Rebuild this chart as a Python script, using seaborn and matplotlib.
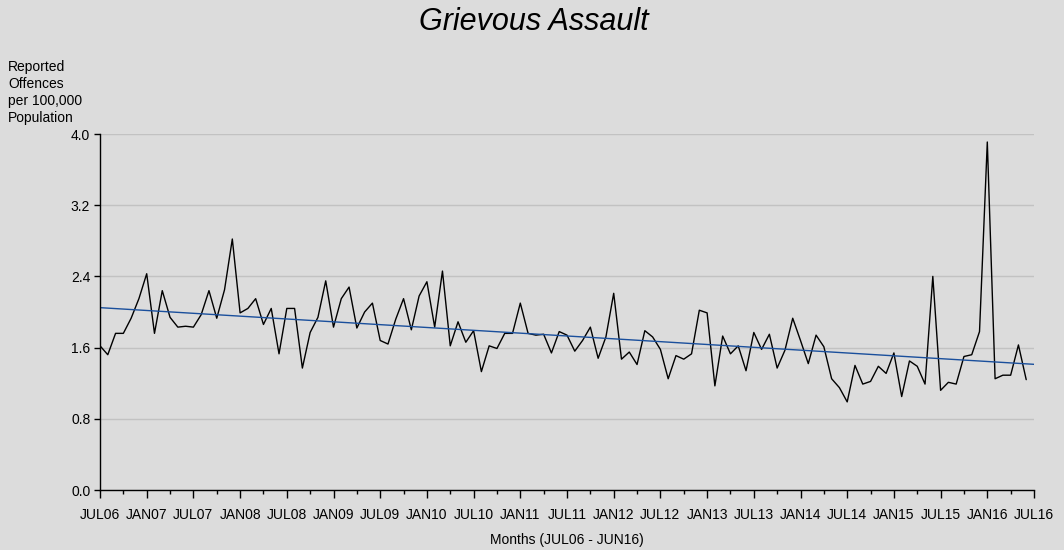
import numpy as np
import pandas as pd
import matplotlib
matplotlib.use("Agg")
import matplotlib.pyplot as plt
import seaborn as sns

# --- Data (monthly rate, JUL06 .. JUN16) ---
rates = [
    1.62, 1.52, 1.76, 1.76, 1.93, 2.15, 2.43, 1.76, 2.24, 1.94, 1.83, 1.84, 1.83, 1.97, 2.24, 1.93, 2.25, 2.82, 1.99, 2.04,
    2.15, 1.86, 2.04, 1.53, 2.04, 2.04, 1.37, 1.77, 1.94, 2.35, 1.83, 2.15, 2.28, 1.82, 2.00, 2.10, 1.68, 1.64, 1.92, 2.15,
    1.80, 2.18, 2.34, 1.83, 2.46, 1.62, 1.89, 1.66, 1.79, 1.33, 1.62, 1.59, 1.76, 1.76, 2.10, 1.76, 1.74, 1.75, 1.54, 1.78,
    1.74, 1.56, 1.68, 1.83, 1.48, 1.72, 2.21, 1.47, 1.55, 1.41, 1.79, 1.72, 1.58, 1.25, 1.51, 1.47, 1.53, 2.02, 1.99, 1.17,
    1.73, 1.53, 1.62, 1.34, 1.77, 1.58, 1.75, 1.37, 1.57, 1.93, 1.68, 1.42, 1.74, 1.61, 1.25, 1.15, 0.99, 1.40, 1.19, 1.22,
    1.39, 1.31, 1.54, 1.05, 1.45, 1.39, 1.19, 2.40, 1.12, 1.21, 1.19, 1.50, 1.52, 1.78, 3.91, 1.25, 1.29, 1.29, 1.63, 1.24,
]
tick_labels = [
    "JUL06", "JAN07", "JUL07", "JAN08", "JUL08", "JAN09", "JUL09", "JAN10", "JUL10", "JAN11", "JUL11",
    "JAN12", "JUL12", "JAN13", "JUL13", "JAN14", "JUL14", "JAN15", "JUL15", "JAN16", "JUL16",
]
y_ticks = [0.0, 0.8, 1.6, 2.4, 3.2, 4.0]

BG = "#dcdcdc"

sns.set_theme(style="white")
plt.rcParams["font.family"] = ["Liberation Sans", "DejaVu Sans"]
plt.rcParams["axes.facecolor"] = BG
plt.rcParams["figure.facecolor"] = BG
plt.rcParams["text.color"] = "black"
plt.rcParams["axes.labelcolor"] = "black"
plt.rcParams["xtick.color"] = "black"
plt.rcParams["ytick.color"] = "black"

df = pd.DataFrame({"month": np.arange(len(rates)), "rate": rates})

# linear trend, drawn across the full axis (JUL06 .. JUL16)
slope, intercept = np.polyfit(df["month"], df["rate"], 1)
n_months = 6 * (len(tick_labels) - 1)
trend = pd.DataFrame({"month": [0, n_months]})
trend["rate"] = intercept + slope * trend["month"]

fig = plt.figure(figsize=(10.64, 5.5), dpi=100)
ax = fig.add_axes([100 / 1064, 1 - 490 / 550, 934 / 1064, 356 / 550])

sns.lineplot(data=df, x="month", y="rate", color="black", linewidth=1, ax=ax)
sns.lineplot(data=trend, x="month", y="rate", color="#1a4f9c", linewidth=1, ax=ax)

ax.set_xlim(0, n_months)
ax.set_ylim(0, 4.0)
ax.set_xticks(np.arange(0, n_months + 1, 6))
ax.set_xticklabels(tick_labels)
ax.set_xticks(np.arange(3, n_months, 6), minor=True)
ax.set_yticks(y_ticks)
ax.set_yticklabels([f"{v:.1f}" for v in y_ticks])

ax.grid(axis="y", color="#c2c2c2", linewidth=1)
ax.set_axisbelow(True)
for side in ["top", "right"]:
    ax.spines[side].set_visible(False)
for side in ["left", "bottom"]:
    ax.spines[side].set_color("black")
    ax.spines[side].set_linewidth(1)

ax.tick_params(axis="x", which="major", direction="out", length=6, width=1,
               color="black", pad=7, labelsize=10, bottom=True)
ax.tick_params(axis="x", which="minor", direction="out", length=3, width=1,
               color="black", bottom=True)
ax.tick_params(axis="y", direction="out", length=4, width=1, color="black",
               pad=3, labelsize=10, left=True)

ax.set_xlabel("Months (JUL06 - JUN16)", fontsize=10, labelpad=8)
ax.set_ylabel("")

fig.text(534 / 1064, 1 - 22 / 550, "Grievous Assault", ha="center", va="center",
         fontsize=22, style="italic")
fig.text(8 / 1064, 1 - 60 / 550, "Reported\nOffences\nper 100,000\nPopulation",
         ha="left", va="top", fontsize=10, linespacing=1.27)

fig.savefig("out.png", dpi=100, facecolor=BG)
